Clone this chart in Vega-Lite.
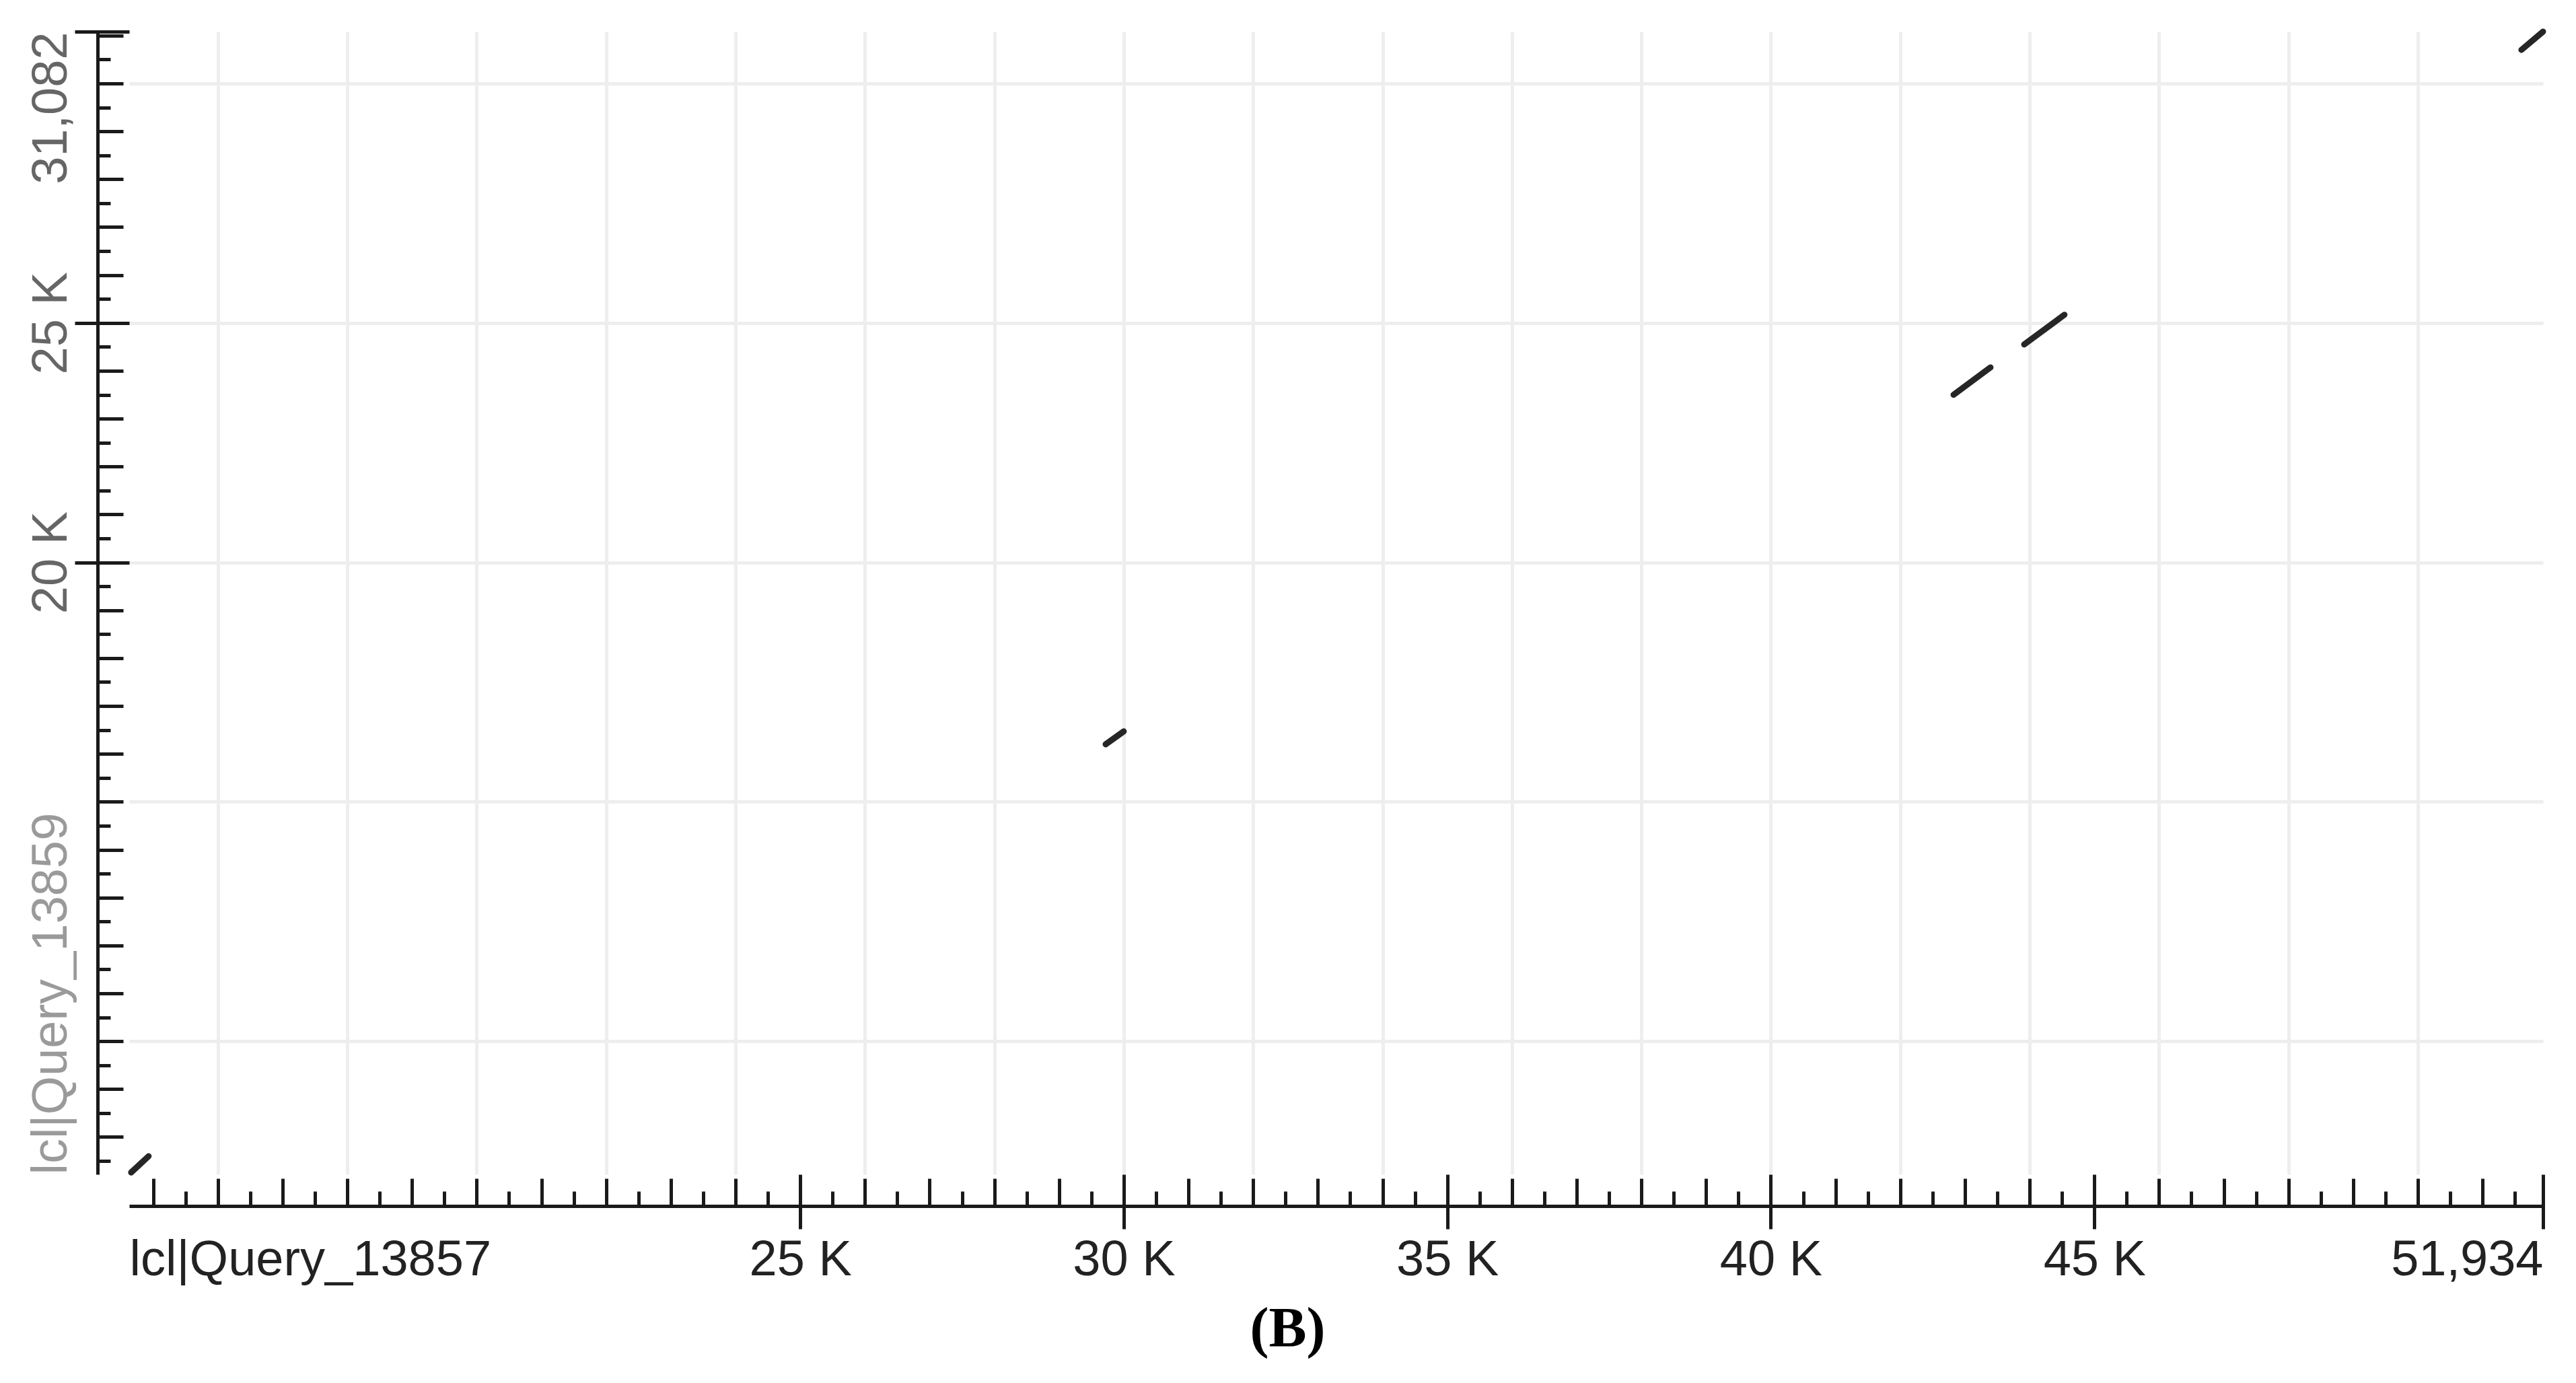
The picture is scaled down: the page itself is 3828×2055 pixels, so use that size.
{
  "$schema": "https://vega.github.io/schema/vega-lite/v6.json",
  "width": 3587,
  "height": 1698,
  "autosize": {"type": "none"},
  "padding": {"left": 192, "top": 47, "right": 49, "bottom": 310},
  "background": "white",
  "title": {
    "text": "(B)",
    "orient": "bottom",
    "anchor": "middle",
    "offset": 26,
    "dx": -72,
    "font": "Liberation Serif",
    "fontWeight": "bold",
    "fontSize": 84,
    "color": "#000000"
  },
  "data": {
    "values": [
      {"x1": 14660, "y1": 7260, "x2": 14930, "y2": 7600},
      {"x1": 29720, "y1": 16200, "x2": 30000, "y2": 16470},
      {"x1": 42824, "y1": 23500, "x2": 43395, "y2": 24070},
      {"x1": 43915, "y1": 24550, "x2": 44538, "y2": 25170},
      {"x1": 51600, "y1": 30700, "x2": 51934, "y2": 31082}
    ]
  },
  "config": {
    "view": {"stroke": null},
    "axis": {
      "title": null,
      "domainColor": "#1a1a1a",
      "domainWidth": 5,
      "tickColor": "#1a1a1a",
      "tickWidth": 5,
      "labelFont": "Liberation Sans",
      "labelFontSize": 74,
      "labelOverlap": false,
      "labelBound": false,
      "labelFlush": false,
      "labelLimit": 2000,
      "gridColor": "#eeeeee",
      "gridWidth": 5
    }
  },
  "resolve": {"axis": {"x": "independent", "y": "independent"}},
  "layer": [
    {
      "mark": {"type": "rule", "color": "#262626", "strokeWidth": 9, "strokeCap": "round"},
      "encoding": {
        "x": {"field": "x1", "type": "quantitative", "scale": {"domain": [14630, 51934], "nice": false, "zero": false},
          "axis": {"orient": "bottom", "offset": 47, "domain": true, "ticks": false, "labels": false, "grid": false}},
        "y": {"field": "y1", "type": "quantitative", "scale": {"domain": [7220, 31082], "nice": false, "zero": false},
          "axis": {"orient": "left", "offset": 47, "domain": true, "ticks": false, "labels": false, "grid": false}},
        "x2": {"field": "x2"},
        "y2": {"field": "y2"}
      }
    },
    {
      "mark": {"type": "point", "opacity": 0},
      "encoding": {
        "x": {"field": "x1", "type": "quantitative", "scale": {"domain": [14630, 51934], "nice": false, "zero": false},
          "axis": {"orient": "bottom", "offset": 6, "tickSize": 41, "domain": false, "labels": false, "grid": false,
            "values": [15000,16000,17000,18000,19000,20000,21000,22000,23000,24000,25000,26000,27000,28000,29000,30000,31000,32000,33000,34000,35000,36000,37000,38000,39000,40000,41000,42000,43000,44000,45000,46000,47000,48000,49000,50000,51000]}},
        "y": {"field": "y1", "type": "quantitative", "scale": {"domain": [7220, 31082], "nice": false, "zero": false},
          "axis": {"orient": "left", "offset": 9, "tickSize": 38, "domain": false, "labels": false, "grid": false,
            "values": [8000,9000,10000,11000,12000,13000,14000,15000,16000,17000,18000,19000,20000,21000,22000,23000,24000,25000,26000,27000,28000,29000,30000,31000]}}
      }
    },
    {
      "mark": {"type": "point", "opacity": 0},
      "encoding": {
        "x": {"field": "x1", "type": "quantitative", "scale": {"domain": [14630, 51934], "nice": false, "zero": false},
          "axis": {"orient": "bottom", "offset": 25, "tickSize": 22, "domain": false, "labels": false, "grid": false,
            "values": [15500,16500,17500,18500,19500,20500,21500,22500,23500,24500,25500,26500,27500,28500,29500,30500,31500,32500,33500,34500,35500,36500,37500,38500,39500,40500,41500,42500,43500,44500,45500,46500,47500,48500,49500,50500,51500]}},
        "y": {"field": "y1", "type": "quantitative", "scale": {"domain": [7220, 31082], "nice": false, "zero": false},
          "axis": {"orient": "left", "offset": 28, "tickSize": 19, "domain": false, "labels": false, "grid": false,
            "values": [7500,8500,9500,10500,11500,12500,13500,14500,15500,16500,17500,18500,19500,20500,21500,22500,23500,24500,25500,26500,27500,28500,29500,30500]}}
      }
    },
    {
      "mark": {"type": "point", "opacity": 0},
      "encoding": {
        "x": {"field": "x1", "type": "quantitative", "scale": {"domain": [14630, 51934], "nice": false, "zero": false},
          "axis": {"orient": "bottom", "offset": 0, "tickSize": 81, "domain": false, "labels": true, "grid": false,
            "values": [14630, 25000, 30000, 35000, 40000, 45000, 51934],
            "labelExpr": "datum.value < 15000 ? 'lcl|Query_13857' : datum.value > 51000 ? '51,934' : format(datum.value / 1000, 'd') + ' K'",
            "labelAlign": {"expr": "datum.value < 15000 ? 'left' : datum.value > 51000 ? 'right' : 'center'"},
            "labelBaseline": "top",
            "labelPadding": 10,
            "labelColor": "#222222",
            "tickOpacity": {"condition": {"test": "datum.value < 15000", "value": 0}, "value": 1}}},
        "y": {"field": "y1", "type": "quantitative", "scale": {"domain": [7220, 31082], "nice": false, "zero": false},
          "axis": {"orient": "left", "offset": 0, "tickSize": 81, "domain": false, "labels": true, "grid": false,
            "values": [7220, 20000, 25000, 31082],
            "labelExpr": "datum.value < 8000 ? 'lcl|Query_13859' : datum.value > 31000 ? '31,082' : format(datum.value / 1000, 'd') + ' K'",
            "labelAngle": 270,
            "labelAlign": {"expr": "datum.value < 8000 ? 'left' : datum.value > 31000 ? 'right' : 'center'"},
            "labelBaseline": "alphabetic",
            "labelPadding": 13,
            "labelColor": {"condition": {"test": "datum.value < 8000", "value": "#9a9a9a"}, "value": "#666666"},
            "tickOpacity": {"condition": {"test": "datum.value < 8000", "value": 0}, "value": 1}}}
      }
    },
    {
      "mark": {"type": "point", "opacity": 0},
      "encoding": {
        "x": {"field": "x1", "type": "quantitative", "scale": {"domain": [14630, 51934], "nice": false, "zero": false},
          "axis": {"orient": "bottom", "offset": 0, "domain": false, "ticks": false, "labels": false, "grid": true,
            "values": [16000,18000,20000,22000,24000,26000,28000,30000,32000,34000,36000,38000,40000,42000,44000,46000,48000,50000]}},
        "y": {"field": "y1", "type": "quantitative", "scale": {"domain": [7220, 31082], "nice": false, "zero": false},
          "axis": {"orient": "left", "offset": 0, "domain": false, "ticks": false, "labels": false, "grid": true,
            "values": [10000, 15000, 20000, 25000, 30000]}}
      }
    }
  ]
}
